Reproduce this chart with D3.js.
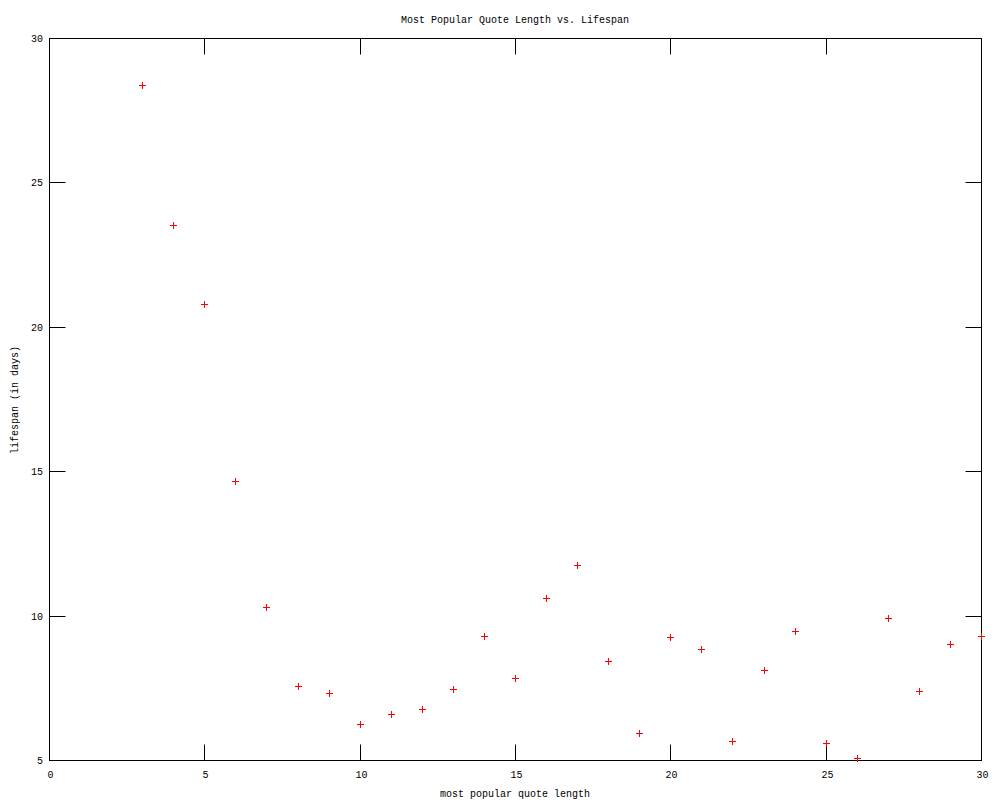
<!DOCTYPE html>
<html>
<head>
<meta charset="utf-8">
<script src="https://cdn.jsdelivr.net/npm/d3@7"></script>
<style>
  html, body { margin: 0; padding: 0; background: #fff; }
  text { font-family: "Liberation Mono", "DejaVu Sans Mono", monospace; font-size: 10px; fill: #000; }
</style>
</head>
<body>
<svg id="chart" width="1000" height="800"></svg>
<script>
const quoteLength = [3, 4, 5, 6, 7, 8, 9, 10, 11, 12, 13, 14, 15, 16, 17, 18, 19, 20, 21, 22, 23, 24, 25, 26, 27, 28, 29, 30];
const lifespanDays = [28.38, 23.53, 20.80, 14.67, 10.30, 7.57, 7.33, 6.25, 6.60, 6.77, 7.47, 9.30, 7.85, 10.62, 11.76, 8.43, 5.94, 9.27, 8.85, 5.66, 8.12, 9.47, 5.60, 5.06, 9.92, 7.40, 9.03, 9.29];
const xTicks = [0, 5, 10, 15, 20, 25, 30];
const yTicks = [5, 10, 15, 20, 25, 30];
const titleText = "Most Popular Quote Length vs. Lifespan";
const xLabel = "most popular quote length";
const yLabel = "lifespan (in days)";

const svg = d3.select("#chart");
const L = 49.5, R = 981.5, T = 38.5, B = 760.5;
const x = d3.scaleLinear().domain([0, 30]).range([L, R]);
const y = d3.scaleLinear().domain([5, 30]).range([B, T]);
const tickLen = 16;

svg.append("rect").attr("width", 1000).attr("height", 800).attr("fill", "#fff");

// frame
svg.append("rect")
  .attr("x", L).attr("y", T).attr("width", R - L).attr("height", B - T)
  .attr("fill", "none").attr("stroke", "#000").attr("stroke-width", 1);

// x ticks (bottom and top, inward)
const gx = svg.append("g");
xTicks.forEach(t => {
  const px = Math.round(x(t) - 0.5) + 0.5;
  gx.append("line").attr("x1", px).attr("x2", px).attr("y1", B).attr("y2", B - tickLen).attr("stroke", "#000");
  gx.append("line").attr("x1", px).attr("x2", px).attr("y1", T).attr("y2", T + tickLen).attr("stroke", "#000");
  gx.append("text").attr("x", px + 1).attr("y", 778).attr("text-anchor", "middle").text(t);
});

// y ticks (left and right, inward)
const gy = svg.append("g");
yTicks.forEach(t => {
  const py = Math.round(y(t) - 0.5) + 0.5;
  gy.append("line").attr("x1", L).attr("x2", L + tickLen).attr("y1", py).attr("y2", py).attr("stroke", "#000");
  gy.append("line").attr("x1", R).attr("x2", R - tickLen).attr("y1", py).attr("y2", py).attr("stroke", "#000");
  gy.append("text").attr("x", 43).attr("y", py + 3.5).attr("text-anchor", "end").text(t);
});

// points as plus markers
const pts = svg.append("g");
quoteLength.forEach((q, i) => {
  const cx = Math.round(x(q) - 0.5) + 0.5;
  const cy = Math.round(y(lifespanDays[i]) - 0.5) + 0.5;
  pts.append("line").attr("x1", cx - 3.5).attr("x2", cx + 3.5).attr("y1", cy).attr("y2", cy).attr("stroke", "#f00");
  pts.append("line").attr("x1", cx).attr("x2", cx).attr("y1", cy - 3.5).attr("y2", cy + 3.5).attr("stroke", "#f00");
});

// labels
svg.append("text").attr("x", 515).attr("y", 23).attr("text-anchor", "middle").text(titleText);
svg.append("text").attr("x", 515).attr("y", 797).attr("text-anchor", "middle").text(xLabel);
svg.append("text").attr("transform", "translate(18,400) rotate(-90)").attr("text-anchor", "middle").text(yLabel);
</script>
</body>
</html>
